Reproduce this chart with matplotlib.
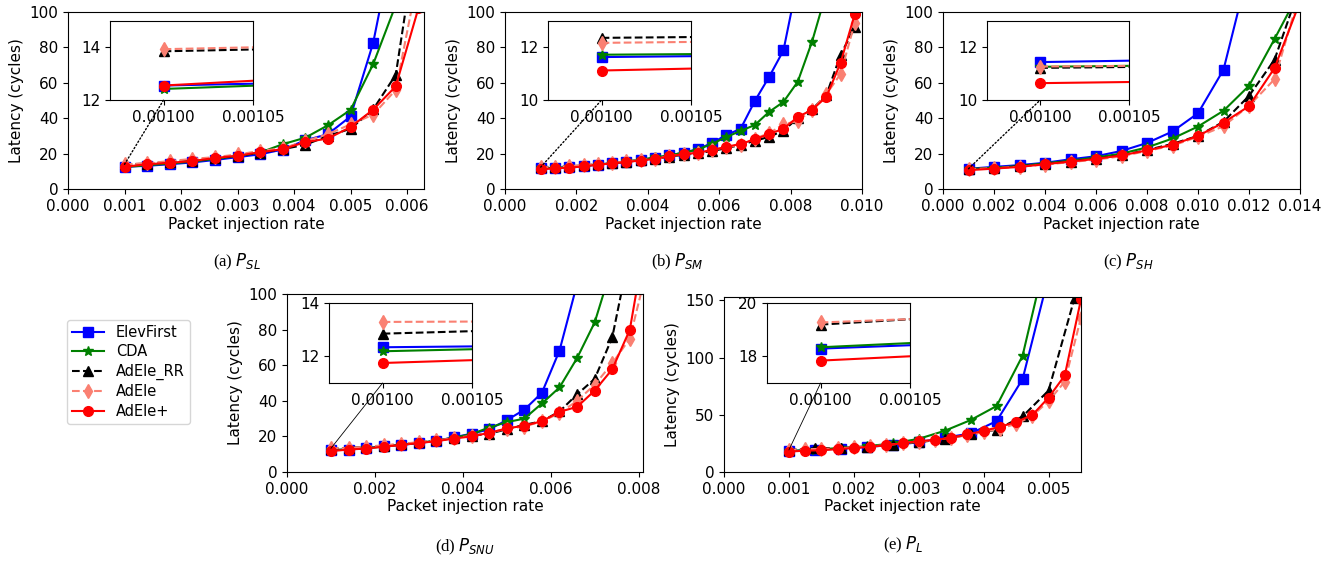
import matplotlib

matplotlib.use("Agg")
import matplotlib.pyplot as plt
from matplotlib.patches import ConnectionPatch
from matplotlib.ticker import FormatStrFormatter
import numpy as np

# ---- data (latency in cycles) ----
names = ["ElevFirst", "CDA", "AdEle_RR", "AdEle", "AdEle+"]

# (a) P_SL
xa = [0.001, 0.0014, 0.0018, 0.0022, 0.0026, 0.003, 0.0034, 0.0038, 0.0042,
      0.0046, 0.005, 0.0054, 0.0058, 0.0062]
a_elev = [12.55, 13.1, 14.0, 15.0, 16.4, 18.0, 19.6, 22.3, 27.5, 31.0, 41.0, 82.5, 146]
a_cda = [12.42, 13.4, 14.4, 15.5, 17.0, 18.6, 20.6, 25.3, 29.0, 36.0, 44.7, 70.5, 104]
a_rr = [13.85, 14.4, 15.2, 16.0, 17.3, 18.8, 20.5, 22.5, 25.0, 30.0, 34.0, 45.0, 64.5, 148]
a_adele = [13.93, 14.5, 15.8, 17.0, 18.0, 19.5, 21.5, 23.0, 27.0, 31.0, 36.5, 42.0, 56.0, 121]
a_plus = [12.55, 14.0, 14.8, 15.8, 17.5, 18.8, 20.8, 22.5, 26.5, 28.5, 35.0, 44.8, 58.0, 102]

# (b) P_SM
xb = [0.001, 0.0014, 0.0018, 0.0022, 0.0026, 0.003, 0.0034, 0.0038, 0.0042,
      0.0046, 0.005, 0.0054, 0.0058, 0.0062, 0.0066, 0.007, 0.0074, 0.0078,
      0.0082, 0.0086, 0.009, 0.0094, 0.0098]
b_elev = [11.63, 11.9, 12.3, 13.0, 13.8, 14.5, 15.5, 16.5, 17.5, 19.0, 20.5, 22.5,
          26.0, 30.5, 34.0, 49.8, 63.4, 78.3, 118]
b_cda = [11.72, 11.9, 12.4, 13.0, 13.8, 14.6, 15.6, 16.6, 17.8, 19.0, 20.5, 22.3,
         25.5, 29.4, 32.8, 36.2, 43.6, 49.2, 60.6, 83.2, 111]
b_rr = [12.36, 12.6, 12.8, 13.3, 14.0, 14.6, 15.4, 16.2, 17.0, 18.3, 19.3, 20.2,
        21.5, 23.0, 25.0, 27.2, 29.5, 33.0, 40.0, 45.0, 53.0, 75.8, 91.5]
b_adele = [12.17, 12.45, 12.9, 13.5, 14.1, 14.8, 15.6, 16.4, 17.2, 18.6, 19.6, 20.6,
           22.2, 23.5, 25.0, 28.5, 31.5, 36.5, 38.5, 44.5, 53.5, 65.0, 94.0]
b_plus = [11.12, 11.7, 12.0, 12.8, 13.7, 14.5, 15.3, 16.1, 17.0, 18.5, 19.7, 20.5,
          22.0, 23.8, 25.5, 28.0, 31.1, 34.0, 40.7, 44.7, 52.0, 71.3, 99.0]

# (c) P_SH
xc = [0.001, 0.002, 0.003, 0.004, 0.005, 0.006, 0.007, 0.008, 0.009, 0.010,
      0.011, 0.012, 0.013, 0.014]
c_elev = [11.44, 12.5, 13.5, 14.8, 16.8, 18.5, 21.5, 26.0, 32.5, 42.8, 67.4, 125]
c_cda = [11.26, 12.0, 13.0, 14.5, 16.0, 17.8, 20.0, 23.5, 28.5, 35.3, 44.2, 58.3, 84.7, 112]
c_rr = [11.22, 11.9, 12.8, 14.0, 15.5, 17.0, 19.0, 22.0, 25.5, 30.0, 38.0, 52.6, 73.0, 114.5]
c_adele = [11.27, 11.8, 12.6, 13.8, 15.2, 16.6, 18.5, 21.5, 24.5, 29.5, 35.5, 47.0, 62.0, 111]
c_plus = [10.64, 11.5, 12.5, 14.0, 15.5, 17.0, 19.0, 21.8, 25.0, 30.0, 37.5, 46.8, 68.3, 105.8]

# (d) P_SNU
xd = [0.001, 0.0014, 0.0018, 0.0022, 0.0026, 0.003, 0.0034, 0.0038, 0.0042,
      0.0046, 0.005, 0.0054, 0.0058, 0.0062, 0.0066, 0.007, 0.0074, 0.0078, 0.0082]
d_elev = [12.34, 12.6, 13.4, 14.5, 15.2, 16.3, 17.5, 19.5, 21.5, 24.0, 29.1, 35.0,
          44.5, 68.2, 105.6]
d_cda = [12.19, 12.8, 13.4, 14.3, 15.3, 16.4, 17.6, 19.3, 21.3, 25.0, 28.0, 30.0,
         38.5, 47.5, 64.0, 84.0, 116]
d_rr = [12.85, 13.6, 14.0, 14.8, 15.6, 16.6, 17.8, 19.0, 20.3, 21.5, 24.0, 26.5,
        28.5, 34.0, 43.6, 52.3, 75.6, 124]
d_adele = [13.29, 13.4, 14.2, 15.0, 15.8, 16.8, 17.8, 19.0, 20.4, 22.0, 24.3, 25.5,
           28.5, 33.0, 40.0, 49.0, 61.0, 75.0, 115]
d_plus = [11.75, 12.6, 13.2, 14.2, 15.2, 16.3, 17.3, 18.8, 20.0, 22.0, 24.5, 26.0,
          28.5, 33.8, 36.6, 45.7, 57.7, 79.9, 137]

# (e) P_L  (two injection-rate grids)
xe_coarse = [0.001, 0.0014, 0.0018, 0.0022, 0.0026, 0.003, 0.0034, 0.0038, 0.0042,
             0.0046, 0.005, 0.0054]
xe_fine = [0.001, 0.00125, 0.0015, 0.00175, 0.002, 0.00225, 0.0025, 0.00275, 0.003,
           0.00325, 0.0035, 0.00375, 0.004, 0.00425, 0.0045, 0.00475, 0.005,
           0.00525, 0.0055]
e_elev = [18.29, 19.3, 20.5, 22.0, 23.5, 26.0, 30.0, 33.7, 44.5, 81.2, 171]
e_cda = [18.34, 19.6, 21.0, 22.5, 25.0, 29.0, 36.0, 45.4, 57.7, 101.7, 198]
e_rr = [19.19, 20.8, 21.0, 22.0, 24.0, 26.0, 29.0, 33.0, 37.0, 48.6, 71.2, 152]
e_adele = [19.27, 19.9, 20.2, 20.8, 21.5, 22.5, 23.5, 25.0, 26.5, 28.0, 30.0, 32.0,
           35.0, 38.0, 42.0, 49.0, 62.0, 79.0, 135]
e_plus = [17.84, 18.65, 19.0, 20.0, 21.0, 22.0, 23.4, 25.2, 27.0, 28.0, 30.0, 32.8,
          36.0, 39.5, 43.7, 49.8, 65.0, 84.4, 151]

styles = [
    dict(color="blue", ls="-", marker="s", ms=6.5),
    dict(color="green", ls="-", marker="*", ms=7.5),
    dict(color="black", ls="--", marker="^", ms=6.5),
    dict(color="salmon", ls="--", marker="d", ms=7),
    dict(color="red", ls="-", marker="o", ms=7),
]

W, H = 1337, 561
plt.rcParams["font.size"] = 11
fig = plt.figure(figsize=(W / 100, H / 100), dpi=100)


def rect(l, r, t, b):
    return [l / W, 1 - b / H, (r - l) / W, (b - t) / H]


def panel(pos, ipos, series, xlim, xticks, ylim, yticks, iylim, iyticks, cap, cap_x, cap_y,
          conn_ls=":", conn_lw=1.0):
    ax = fig.add_axes(rect(*pos))
    ins = fig.add_axes(rect(*ipos))
    for (xs, ys), st in zip(series, styles):
        for a in (ax, ins):
            a.plot(xs[:len(ys)], ys, lw=1.5, **st)
    ax.set_xlim(*xlim); ax.set_ylim(*ylim)
    ax.set_xticks(xticks); ax.set_yticks(yticks)
    ax.xaxis.set_major_formatter(FormatStrFormatter("%.3f"))
    ax.set_xlabel("Packet injection rate", labelpad=2)
    ax.set_ylabel("Latency (cycles)")
    ins.set_xlim(0.00097, 0.00105); ins.set_ylim(*iylim)
    ins.set_xticks([0.001, 0.00105]); ins.set_yticks(iyticks)
    ins.xaxis.set_major_formatter(FormatStrFormatter("%.5f"))
    ytop = max(ys[0] for _, ys in series)
    con = ConnectionPatch(xyA=(0.001, ytop), coordsA=ax.transData,
                          xyB=(0.001, iylim[0]), coordsB=ins.transData,
                          color="black", ls=conn_ls, lw=conn_lw)
    fig.add_artist(con)
    fig.text(cap_x / W, 1 - cap_y / H, cap, ha="center", va="center",
             family="Liberation Serif", fontsize=12)
    return ax


panel((68, 424, 12, 189), (110, 253, 21, 100),
      [(xa, a_elev), (xa, a_cda), (xa, a_rr), (xa, a_adele), (xa, a_plus)],
      (0, 0.0063), np.arange(0, 0.0061, 0.001), (0, 100), range(0, 101, 20),
      (12, 15), [12, 14], "(a) $P_{SL}$", 237, 262)
panel((505, 862, 12, 189), (548, 691, 21, 100),
      [(xb, b_elev), (xb, b_cda), (xb, b_rr), (xb, b_adele), (xb, b_plus)],
      (0, 0.010), np.arange(0, 0.0101, 0.002), (0, 100), range(0, 101, 20),
      (10, 13), [10, 12], "(b) $P_{SM}$", 677, 262)
panel((943, 1300, 12, 189), (987, 1129, 21, 100),
      [(xc, c_elev), (xc, c_cda), (xc, c_rr), (xc, c_adele), (xc, c_plus)],
      (0, 0.014), np.arange(0, 0.0141, 0.002), (0, 100), range(0, 101, 20),
      (10, 13), [10, 12], "(c) $P_{SH}$", 1128, 262)
panel((287, 643, 294, 472), (329, 472, 303, 383),
      [(xd, d_elev), (xd, d_cda), (xd, d_rr), (xd, d_adele), (xd, d_plus)],
      (0, 0.0081), np.arange(0, 0.0081, 0.002), (0, 100), range(0, 101, 20),
      (11, 14), [12, 14], "(d) $P_{SNU}$", 465, 547, conn_ls="-", conn_lw=0.6)
panel((724, 1081, 297, 472), (767, 910, 303, 383),
      [(xe_coarse, e_elev), (xe_coarse, e_cda), (xe_coarse, e_rr),
       (xe_fine, e_adele), (xe_fine, e_plus)],
      (0, 0.0055), np.arange(0, 0.0051, 0.001), (0, 153), [0, 50, 100, 150],
      (17, 20), [18, 20], "(e) $P_{L}$", 903, 545, conn_ls="-", conn_lw=0.6)

handles = [plt.Line2D([], [], lw=1.5, **st) for st in styles]
fig.legend(handles, names, loc="upper left", bbox_to_anchor=(67 / W, 1 - 320 / H),
           borderaxespad=0, fontsize=10.5, labelspacing=0.3, borderpad=0.35,
           handlelength=2.2)

fig.savefig("out.png", dpi=100)
